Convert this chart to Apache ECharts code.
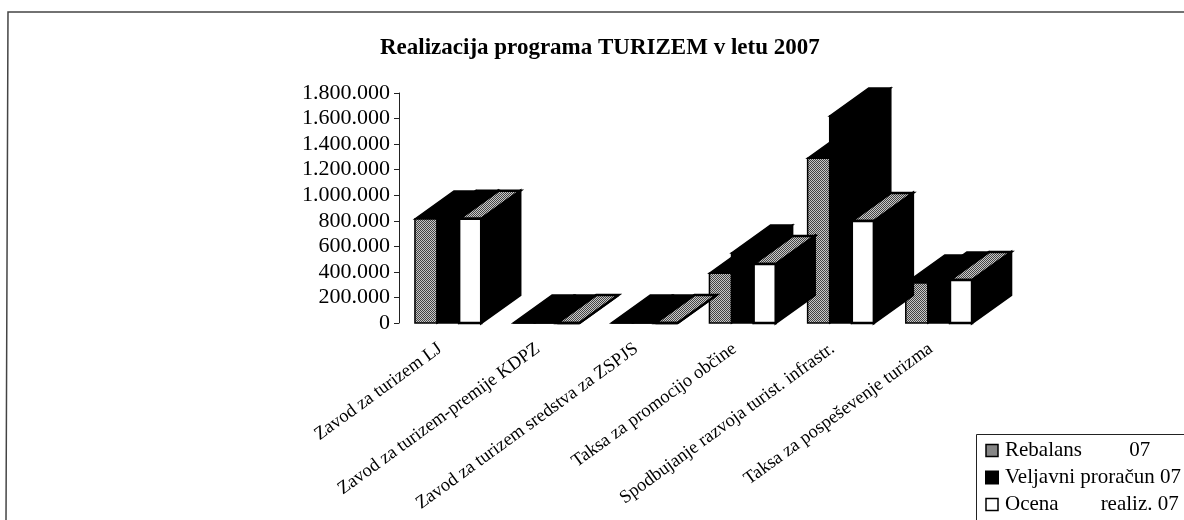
<!DOCTYPE html>
<html>
<head>
<meta charset="utf-8">
<style>
html,body{margin:0;padding:0;background:#fff;}
#chart{width:1184px;height:520px;}
</style>
<script src="https://cdn.jsdelivr.net/npm/echarts@6/dist/echarts.min.js"></script>
</head>
<body>
<div id="chart"></div>
<script type="text/javascript">
var categories = ['Zavod za turizem LJ','Zavod za turizem-premije KDPZ','Zavod za turizem sredstva za ZSPJS','Taksa za promocijo občine','Spodbujanje razvoja turist. infrastr.','Taksa za pospeševenje turizma'];
var rebalans = [814000,0,0,390000,1290000,313000];
var veljavni = [820000,0,0,548000,1620000,336000];
var ocena = [815000,0,0,462000,798000,336000];
var seriesNames = ['Rebalans         07','Veljavni proračun 07','Ocena        realiz. 07'];

var FONT = '"Liberation Serif", serif';
var DEPTH_X = 39, DEPTH_Y = 28;

// dithered grey like the scanned print
function ditherPattern(){
	var c = document.createElement('canvas');
	c.width = 2; c.height = 2;
	var ctx = c.getContext('2d');
	ctx.fillStyle = '#c8c8c8'; ctx.fillRect(0,0,2,2);
	ctx.fillStyle = '#444'; ctx.fillRect(0,0,1,1); ctx.fillRect(1,1,1,1);
	return {image: c, repeat: 'repeat'};
}
var grey = ditherPattern();

// front, top and side colours of each series, white bar has a heavier outline
var faces = [
	{front: grey, top: '#000', side: '#000', edge: 1.5},
	{front: '#000', top: '#000', side: '#000', edge: 1.5},
	{front: '#fff', top: grey, side: '#000', edge: 2.5}
];

function bar3d(idx){
	return function(params, api){
		var base = api.coord([api.value(0), 0]);
		var tip = api.coord([api.value(0), api.value(1)]);
		var w = api.size([1,0])[0] * 0.225;
		var x0 = base[0] + (idx - 1.5) * w;
		var x1 = x0 + w;
		var y0 = base[1], y1 = tip[1];
		var f = faces[idx];
		var line = {stroke: '#000', lineWidth: f.edge};
		return {type: 'group', children: [
			{type: 'polygon', shape: {points: [[x1,y0],[x1+DEPTH_X,y0-DEPTH_Y],[x1+DEPTH_X,y1-DEPTH_Y],[x1,y1]]}, style: Object.assign({fill: f.side}, line)},
			{type: 'polygon', shape: {points: [[x0,y1],[x1,y1],[x1+DEPTH_X,y1-DEPTH_Y],[x0+DEPTH_X,y1-DEPTH_Y]]}, style: Object.assign({fill: f.top}, line)},
			{type: 'rect', shape: {x: x0, y: y1, width: w, height: y0-y1}, style: Object.assign({fill: f.front}, line)}
		]};
	};
}

function makeSeries(idx, values){
	return {
		name: seriesNames[idx],
		type: 'custom',
		renderItem: bar3d(idx),
		encode: {x: 0, y: 1},
		data: values.map(function(v, i){ return [i, v]; }),
		itemStyle: {color: idx == 0 ? '#888' : (idx == 1 ? '#000' : '#fff'), borderColor: '#000', borderWidth: 1.5},
		silent: true
	};
}

var option = {
	animation: false,
	backgroundColor: '#fff',
	title: {
		text: 'Realizacija programa TURIZEM v letu 2007',
		left: 375, top: 32,
		textStyle: {fontFamily: FONT, fontSize: 23, fontWeight: 'bold', color: '#000'}
	},
	legend: {
		orient: 'vertical',
		left: 985, top: 440,
		padding: 0,
		height: 90,
		itemGap: 6,
		itemWidth: 12, itemHeight: 12,
		selectedMode: false,
		z: 5,
		textStyle: {fontFamily: FONT, fontSize: 21, color: '#000', padding: [0,0,0,2]},
		data: [
			{name: seriesNames[0], icon: 'rect', itemStyle: {color: grey, borderColor: '#000', borderWidth: 1.5}},
			{name: seriesNames[1], icon: 'rect', itemStyle: {color: '#000'}},
			{name: seriesNames[2], icon: 'rect', itemStyle: {color: '#fff', borderColor: '#000', borderWidth: 1.5}}
		]
	},
	grid: {left: 399, right: 196, top: 93, bottom: 197},
	xAxis: {
		type: 'category',
		data: categories,
		axisLine: {show: false},
		axisTick: {show: false},
		axisLabel: {interval: 0, rotate: 36, margin: 18, fontFamily: FONT, fontSize: 18.5, color: '#000', padding: [0,10,0,0]}
	},
	yAxis: {
		type: 'value',
		min: 0, max: 1800000, interval: 200000,
		splitLine: {show: false},
		axisLine: {show: true, lineStyle: {color: '#222', width: 1}},
		axisTick: {show: true, length: 5, lineStyle: {color: '#222'}},
		axisLabel: {
			margin: 9, fontFamily: FONT, fontSize: 22, color: '#000',
			formatter: function(v){ return String(v).replace(/\B(?=(\d{3})+$)/g, '.'); }
		}
	},
	graphic: [
		{type: 'polyline', silent: true, shape: {points: [[6,520],[8,12],[1184,12]]}, style: {stroke: '#444', lineWidth: 1.5, fill: null}},
		{type: 'rect', silent: true, z: 4, shape: {x: 976.5, y: 434.5, width: 220, height: 100}, style: {stroke: '#222', lineWidth: 1, fill: '#fff'}}
	],
	series: [makeSeries(0, rebalans), makeSeries(1, veljavni), makeSeries(2, ocena)]
};

var myChart = echarts.init(document.getElementById('chart'));
myChart.setOption(option);
</script>
</body>
</html>
